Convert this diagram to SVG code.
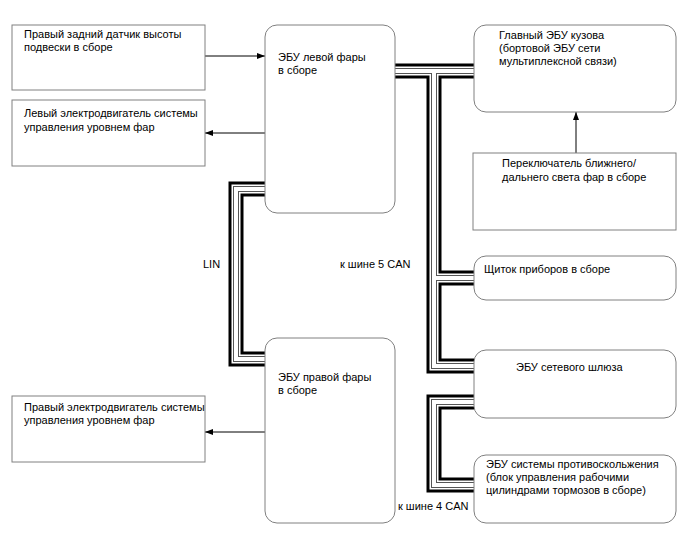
<svg xmlns="http://www.w3.org/2000/svg" xmlns:xlink="http://www.w3.org/1999/xlink" width="688" height="560" viewBox="0 0 688 560">
<style>
  .box{fill:#fff;stroke:#808080;stroke-width:1}
  text{font-family:"Liberation Sans",Arial,sans-serif;font-size:11px;fill:#000}
  .wire{fill:none;stroke:#000;stroke-width:1}
  .b1{fill:none;stroke:#000;stroke-width:15}
  .b2{fill:none;stroke:#fff;stroke-width:9}
  .b3{fill:none;stroke:#555;stroke-width:6}
  .b4{fill:none;stroke:#fff;stroke-width:4}
</style>
<defs>
  <marker id="ah" viewBox="0 0 8 6" refX="8" refY="3" markerWidth="8" markerHeight="6" markerUnits="userSpaceOnUse" orient="auto">
    <path d="M0,0 L8,3 L0,6 z" fill="#000"/>
  </marker>
  <g id="bus">
    <path d="M395,71 H474"/>
    <path d="M434,71 V366 H474"/>
    <path d="M434,278 H474"/>
    <path d="M474,402 H434 V485 H474"/>
    <path d="M265,189 H236 V359 H265"/>
  </g>
</defs>
<rect width="688" height="560" fill="#fff"/>
<g id="connectors">
  <use xlink:href="#bus" class="b1"/>
  <use xlink:href="#bus" class="b2"/>
  <use xlink:href="#bus" class="b3"/>
  <use xlink:href="#bus" class="b4"/>
  <line class="wire" x1="205" y1="56" x2="265" y2="56" marker-end="url(#ah)"/>
  <line class="wire" x1="265" y1="133" x2="205" y2="133" marker-end="url(#ah)"/>
  <line class="wire" x1="265" y1="432" x2="205" y2="432" marker-end="url(#ah)"/>
  <line class="wire" x1="576" y1="153" x2="576" y2="112" marker-end="url(#ah)"/>
  <text x="203" y="268">LIN</text>
  <text x="340" y="268">к шине 5 CAN</text>
  <text x="398" y="510">к шине 4 CAN</text>
</g>
<g id="sensor">
  <rect class="box" x="12" y="25" width="193" height="65"/>
  <text x="24" y="38">Правый задний датчик высоты</text>
  <text x="24" y="51">подвески в сборе</text>
</g>
<g id="left-motor">
  <rect class="box" x="12" y="100" width="193" height="66"/>
  <text x="24" y="117">Левый электродвигатель системы</text>
  <text x="24" y="131">управления уровнем фар</text>
</g>
<g id="left-ecu">
  <rect class="box" x="265" y="25" width="130" height="188" rx="12"/>
  <text x="278" y="61">ЭБУ левой фары</text>
  <text x="278" y="74">в сборе</text>
</g>
<g id="body-ecu">
  <rect class="box" x="474" y="25" width="202" height="87" rx="12"/>
  <text x="499" y="39">Главный ЭБУ кузова</text>
  <text x="499" y="52">(бортовой ЭБУ сети</text>
  <text x="499" y="65">мультиплексной связи)</text>
</g>
<g id="switch">
  <rect class="box" x="473" y="153" width="203" height="77"/>
  <text x="502" y="167">Переключатель ближнего/</text>
  <text x="502" y="181">дальнего света фар в сборе</text>
</g>
<g id="meter">
  <rect class="box" x="474" y="256" width="202" height="44" rx="12"/>
  <text x="484" y="273">Щиток приборов в сборе</text>
</g>
<g id="gateway">
  <rect class="box" x="474" y="350" width="202" height="68" rx="12"/>
  <text x="516" y="371">ЭБУ сетевого шлюза</text>
</g>
<g id="abs">
  <rect class="box" x="474" y="455" width="202" height="68" rx="12"/>
  <text x="486" y="468">ЭБУ системы противоскольжения</text>
  <text x="486" y="481">(блок управления рабочими</text>
  <text x="486" y="494">цилиндрами тормозов в сборе)</text>
</g>
<g id="right-ecu">
  <rect class="box" x="265" y="338" width="130" height="185" rx="12"/>
  <text x="278" y="381">ЭБУ правой фары</text>
  <text x="278" y="394">в сборе</text>
</g>
<g id="right-motor">
  <rect class="box" x="12" y="396" width="193" height="66"/>
  <text x="24" y="411">Правый электродвигатель системы</text>
  <text x="24" y="424">управления уровнем фар</text>
</g>
</svg>
